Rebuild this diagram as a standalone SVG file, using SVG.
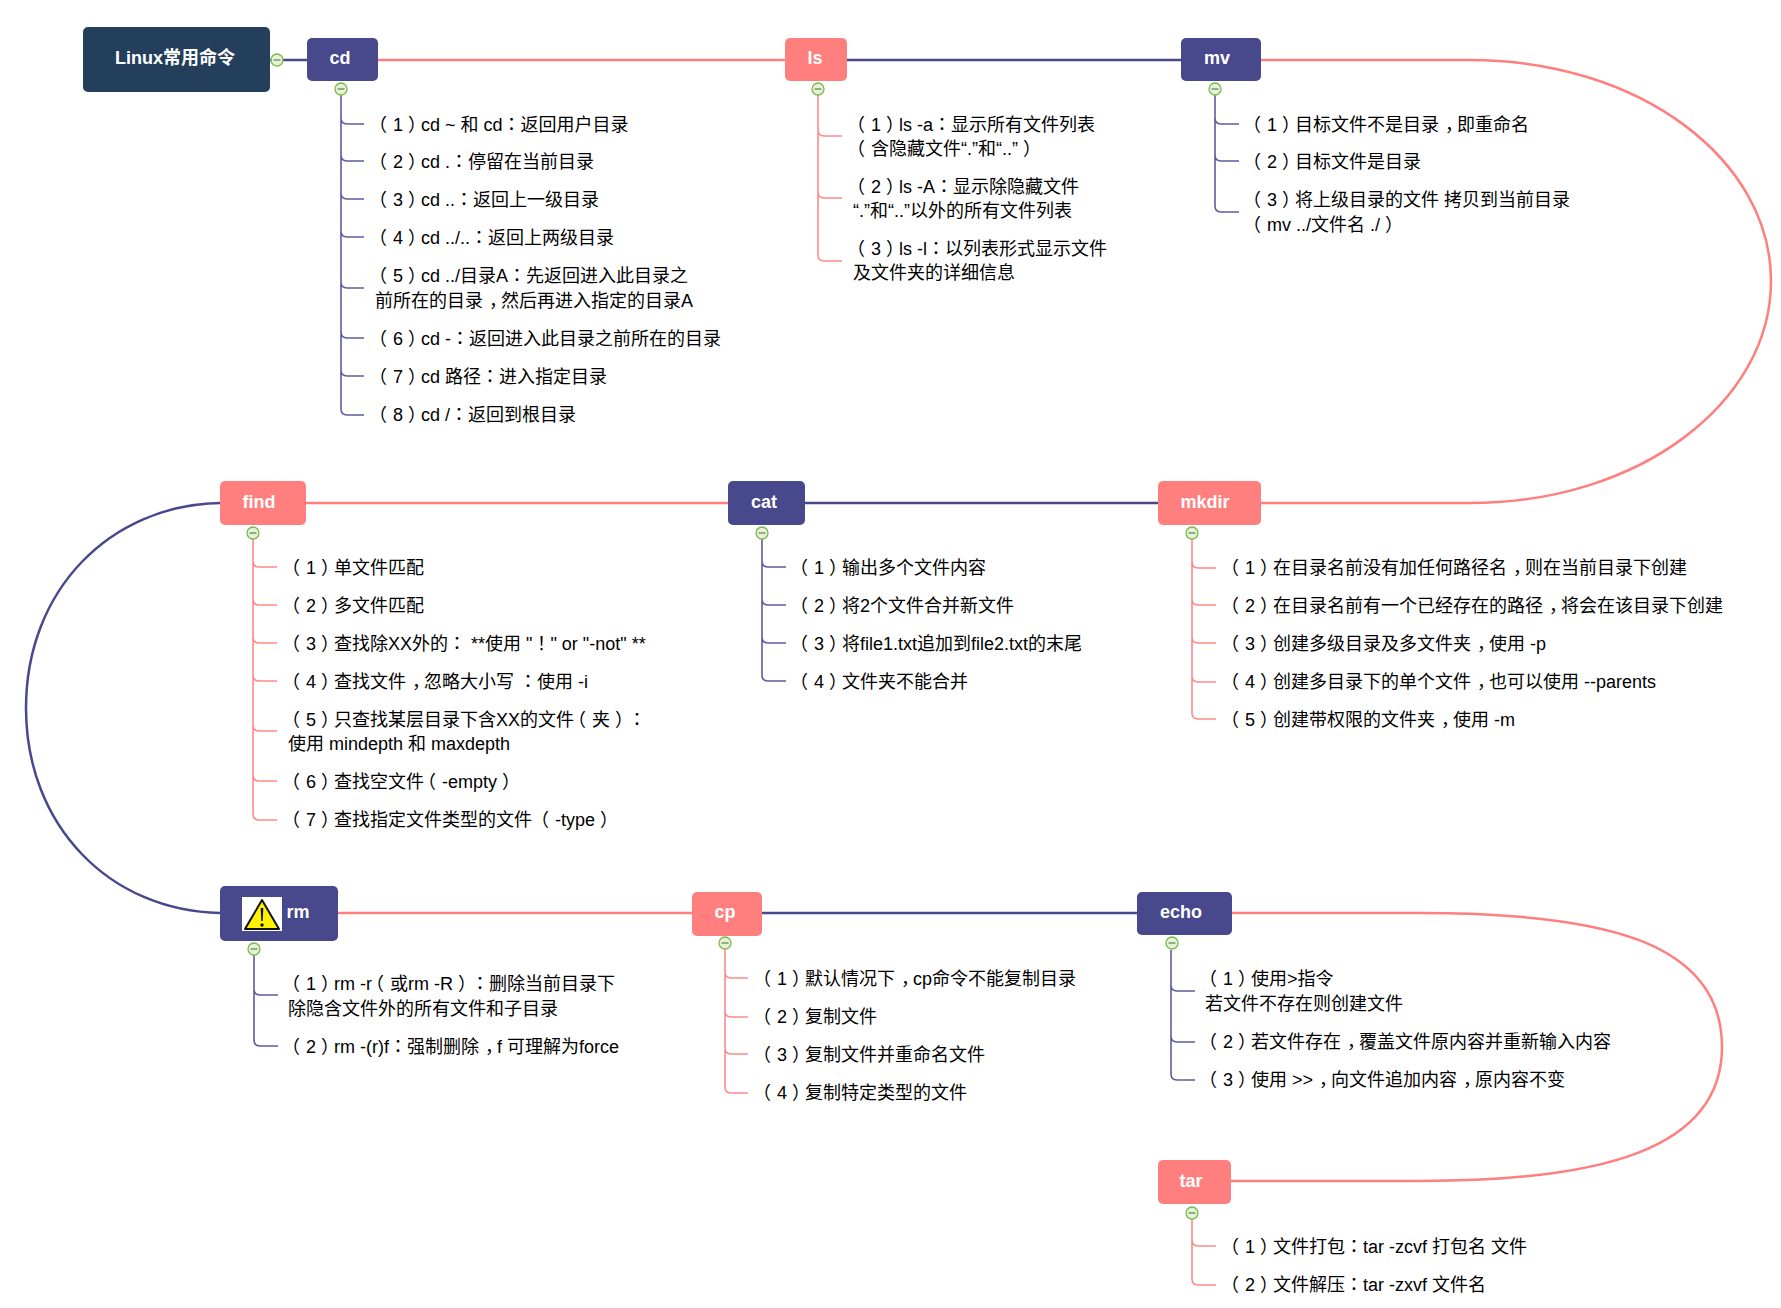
<svg xmlns="http://www.w3.org/2000/svg" width="1781" height="1308" viewBox="0 0 1781 1308">
<style>
text{font-family:"Liberation Sans","Noto Sans CJK SC",sans-serif;text-spacing-trim:space-all}
.l{font-size:18px;fill:#000}
.k{font-family:"Liberation Sans","Noto Sans CJK TC",sans-serif}
.t{font-size:18px;font-weight:bold;fill:#fff;text-anchor:middle}
.n{fill:#47498C}.p{fill:#FF7F7F}.r{fill:#243F5C}
.cn,.cp{fill:none;stroke-width:2.5}
.cn{stroke:#47498C}.cp{stroke:#FF7F7F}
.bn,.bp{fill:none;stroke-width:1.6}
.bn{stroke:#5C5E9C}.bp{stroke:#FF8A8A}
</style>
<defs>
<g id="fold"><circle r="6" fill="#E4F3D8" stroke="#7DB84F" stroke-width="1.3"/><path d="M-3.5 0H3.5" stroke="#7A9A60" stroke-width="1.5"/></g>
</defs>
<g id="connectors">
<path class="cn" d="M270 60H307"/>
<path class="cp" d="M378 60H785"/>
<path class="cn" d="M847 60H1181"/>
<path class="cp" d="M1261 60H1470C1640 60 1771 160 1771 281C1771 402 1640 503 1470 503H1261"/>
<path class="cn" d="M805 503H1158"/>
<path class="cp" d="M305 503H728"/>
<path class="cn" d="M220 503C110 505 26 590 26 708C26 826 110 911 220 913"/>
<path class="cp" d="M338 913H692"/>
<path class="cn" d="M762 913H1137"/>
<path class="cp" d="M1232 913H1420C1600 913 1722 940 1722 1047C1722 1150 1600 1181 1420 1181H1231"/>
<g class="bn">
<path d="M341 95V118Q341 124 347 124H364M341 118V155Q341 161 347 161H364M341 155V193Q341 199 347 199H364M341 193V231Q341 237 347 237H364M341 231V282Q341 288 347 288H364M341 282V332Q341 338 347 338H364M341 332V370Q341 376 347 376H364M341 370V409Q341 415 347 415H364"/>
<path d="M1215 95V118Q1215 124 1221 124H1239M1215 118V155Q1215 161 1221 161H1239M1215 155V206Q1215 212 1221 212H1239"/>
<path d="M762 539V561Q762 567 768 567H786M762 561V599Q762 605 768 605H786M762 599V637Q762 643 768 643H786M762 637V675Q762 681 768 681H786"/>
<path d="M254 955V989Q254 995 260 995H278M254 989V1040Q254 1046 260 1046H278"/>
<path d="M1171 950V985Q1171 991 1177 991H1195M1171 985V1036Q1171 1042 1177 1042H1195M1171 1036V1074Q1171 1080 1177 1080H1195"/>
</g>
<g class="bp">
<path d="M818 95V130Q818 136 824 136H842M818 130V192Q818 198 824 198H842M818 192V255Q818 261 824 261H842"/>
<path d="M253 539V561Q253 567 259 567H277M253 561V599Q253 605 259 605H277M253 599V637Q253 643 259 643H277M253 637V675Q253 681 259 681H277M253 675V725Q253 731 259 731H277M253 725V775Q253 781 259 781H277M253 775V814Q253 820 259 820H277"/>
<path d="M1192 539V562Q1192 568 1198 568H1216M1192 562V599Q1192 605 1198 605H1216M1192 599V637Q1192 643 1198 643H1216M1192 637V676Q1192 682 1198 682H1216M1192 676V713Q1192 719 1198 719H1216"/>
<path d="M725 949V972Q725 978 731 978H748M725 972V1011Q725 1017 731 1017H748M725 1011V1048Q725 1054 731 1054H748M725 1048V1087Q725 1093 731 1093H748"/>
<path d="M1192 1219V1240Q1192 1246 1198 1246H1216M1192 1240V1279Q1192 1285 1198 1285H1216"/>
</g>
</g>
<g id="root"><rect class="r" x="83" y="27" width="187" height="65" rx="5"/><text class="t" x="175" y="64">Linux常用命令</text><use href="#fold" x="277" y="60"/></g>
<g id="cd"><rect class="n" x="307" y="38" width="71" height="43" rx="5"/><text class="t" x="340" y="64">cd</text><use href="#fold" x="341" y="89"/></g>
<g id="ls"><rect class="p" x="785" y="38" width="62" height="43" rx="5"/><text class="t" x="815" y="64">ls</text><use href="#fold" x="818" y="89"/></g>
<g id="mv"><rect class="n" x="1181" y="38" width="80" height="43" rx="5"/><text class="t" x="1217" y="64">mv</text><use href="#fold" x="1215" y="89"/></g>
<g id="mkdir"><rect class="p" x="1158" y="481" width="103" height="44" rx="5"/><text class="t" x="1205" y="508">mkdir</text><use href="#fold" x="1192" y="533"/></g>
<g id="cat"><rect class="n" x="728" y="481" width="77" height="44" rx="5"/><text class="t" x="764" y="508">cat</text><use href="#fold" x="762" y="533"/></g>
<g id="find"><rect class="p" x="220" y="481" width="86" height="44" rx="5"/><text class="t" x="259" y="508">find</text><use href="#fold" x="253" y="533"/></g>
<g id="rm"><rect class="n" x="220" y="886" width="118" height="55" rx="5"/><rect x="242" y="897" width="40" height="34" fill="#fff"/><path d="M262 900L279 929H245Z" fill="#FFF200" stroke="#111" stroke-width="2" stroke-linejoin="round"/><path d="M260.700 908H263.300L262.700 921H261.300Z" fill="#111"/><circle cx="262" cy="925" r="1.700" fill="#111"/><text class="t" x="298" y="918">rm</text><use href="#fold" x="254" y="949"/></g>
<g id="cp"><rect class="p" x="692" y="892" width="70" height="44" rx="5"/><text class="t" x="725" y="918">cp</text><use href="#fold" x="725" y="943"/></g>
<g id="echo"><rect class="n" x="1137" y="892" width="95" height="43" rx="5"/><text class="t" x="1181" y="918">echo</text><use href="#fold" x="1172" y="943"/></g>
<g id="tar"><rect class="p" x="1158" y="1160" width="73" height="44" rx="5"/><text class="t" x="1191" y="1187">tar</text><use href="#fold" x="1192" y="1213"/></g>
<g id="cd-items" class="l">
<g id="cd-1"><text x="369" y="131" dx="0 6 5 -5">（1）cd ~ 和 cd<tspan class="k">：</tspan>返回用户目录</text></g>
<g id="cd-2"><text x="369" y="168" dx="0 6 5 -5">（2）cd .<tspan class="k">：</tspan>停留在当前目录</text></g>
<g id="cd-3"><text x="369" y="206" dx="0 6 5 -5">（3）cd ..<tspan class="k">：</tspan>返回上一级目录</text></g>
<g id="cd-4"><text x="369" y="244" dx="0 6 5 -5">（4）cd ../..<tspan class="k">：</tspan>返回上两级目录</text></g>
<g id="cd-5"><text x="369" y="282" dx="0 6 5 -5">（5）cd ../目录A<tspan class="k">：</tspan>先返回进入此目录之</text><text x="375" y="307">前所在的目录<tspan dx="6 -6">，然</tspan>后再进入指定的目录A</text></g>
<g id="cd-6"><text x="369" y="345" dx="0 6 5 -5">（6）cd -<tspan class="k">：</tspan>返回进入此目录之前所在的目录</text></g>
<g id="cd-7"><text x="369" y="383" dx="0 6 5 -5">（7）cd 路径<tspan class="k">：</tspan>进入指定目录</text></g>
<g id="cd-8"><text x="369" y="421" dx="0 6 5 -5">（8）cd /<tspan class="k">：</tspan>返回到根目录</text></g>
</g>
<g id="ls-items" class="l">
<g id="ls-1"><text x="847" y="131" dx="0 6 5 -5">（1）ls -a<tspan class="k">：</tspan>显示所有文件列表</text><text x="847" y="155" dx="0 6">（含隐藏文件“.”和“..”<tspan dx="5">）</tspan></text></g>
<g id="ls-2"><text x="847" y="193" dx="0 6 5 -5">（2）ls -A<tspan class="k">：</tspan>显示除隐藏文件</text><text x="853" y="217">“.”和“..”以外的所有文件列表</text></g>
<g id="ls-3"><text x="847" y="255" dx="0 6 5 -5">（3）ls -l<tspan class="k">：</tspan>以列表形式显示文件</text><text x="853" y="279">及文件夹的详细信息</text></g>
</g>
<g id="mv-items" class="l">
<g id="mv-1"><text x="1243" y="131" dx="0 6 5 -5">（1）目标文件不是目录<tspan dx="6 -6">，即</tspan>重命名</text></g>
<g id="mv-2"><text x="1243" y="168" dx="0 6 5 -5">（2）目标文件是目录</text></g>
<g id="mv-3"><text x="1243" y="206" dx="0 6 5 -5">（3）将上级目录的文件 拷贝到当前目录</text><text x="1243" y="231" dx="0 6">（mv ../文件名 ./<tspan dx="5">）</tspan></text></g>
</g>
<g id="find-items" class="l">
<g id="find-1"><text x="282" y="574" dx="0 6 5 -5">（1）单文件匹配</text></g>
<g id="find-2"><text x="282" y="612" dx="0 6 5 -5">（2）多文件匹配</text></g>
<g id="find-3"><text x="282" y="650" dx="0 6 5 -5">（3）查找除XX外的<tspan class="k">：</tspan> **使用 "<tspan class="k">！</tspan>" or "-not" **</text></g>
<g id="find-4"><text x="282" y="688" dx="0 6 5 -5">（4）查找文件<tspan dx="6 -6">，忽</tspan>略大小写 <tspan class="k">：</tspan>使用 -i</text></g>
<g id="find-5"><text x="282" y="726" dx="0 6 5 -5 0 0 0 0 0 0 0 0 0 0 0 0 0 -6 6">（5）只查找某层目录下含XX的文件（夹<tspan class="k" dx="5 -5">）：</tspan></text><text x="288" y="750">使用 mindepth 和 maxdepth</text></g>
<g id="find-6"><text x="282" y="788" dx="0 6 5 -5 0 0 0 0 -6 6">（6）查找空文件（-empty<tspan dx="5">）</tspan></text></g>
<g id="find-7"><text x="282" y="826" dx="0 6 5 -5 0 0 0 0 0 0 0 0 0 0 0 -6 6">（7）查找指定文件类型的文件 （-type<tspan dx="5">）</tspan></text></g>
</g>
<g id="cat-items" class="l">
<g id="cat-1"><text x="790" y="574" dx="0 6 5 -5">（1）输出多个文件内容</text></g>
<g id="cat-2"><text x="790" y="612" dx="0 6 5 -5">（2）将2个文件合并新文件</text></g>
<g id="cat-3"><text x="790" y="650" dx="0 6 5 -5">（3）将file1.txt追加到file2.txt的末尾</text></g>
<g id="cat-4"><text x="790" y="688" dx="0 6 5 -5">（4）文件夹不能合并</text></g>
</g>
<g id="mkdir-items" class="l">
<g id="mkdir-1"><text x="1221" y="574" dx="0 6 5 -5">（1）在目录名前没有加任何路径名<tspan dx="6 -6">，则</tspan>在当前目录下创建</text></g>
<g id="mkdir-2"><text x="1221" y="612" dx="0 6 5 -5">（2）在目录名前有一个已经存在的路径<tspan dx="6 -6">，将</tspan>会在该目录下创建</text></g>
<g id="mkdir-3"><text x="1221" y="650" dx="0 6 5 -5">（3）创建多级目录及多文件夹<tspan dx="6 -6">，使</tspan>用 -p</text></g>
<g id="mkdir-4"><text x="1221" y="688" dx="0 6 5 -5">（4）创建多目录下的单个文件<tspan dx="6 -6">，也</tspan>可以使用 --parents</text></g>
<g id="mkdir-5"><text x="1221" y="726" dx="0 6 5 -5">（5）创建带权限的文件夹<tspan dx="6 -6">，使</tspan>用 -m</text></g>
</g>
<g id="rm-items" class="l">
<g id="rm-1"><text x="282" y="990" dx="0 6 5 -5 0 0 0 0 -6 6">（1）rm -r（或rm -R<tspan class="k" dx="5 -5">）：</tspan>删除当前目录下</text><text x="288" y="1015">除隐含文件外的所有文件和子目录</text></g>
<g id="rm-2"><text x="282" y="1053" dx="0 6 5 -5">（2）rm -(r)f<tspan class="k">：</tspan>强制删除<tspan dx="6 -6">，f</tspan> 可理解为force</text></g>
</g>
<g id="cp-items" class="l">
<g id="cp-1"><text x="753" y="985" dx="0 6 5 -5">（1）默认情况下<tspan dx="6 -6">，c</tspan>p命令不能复制目录</text></g>
<g id="cp-2"><text x="753" y="1023" dx="0 6 5 -5">（2）复制文件</text></g>
<g id="cp-3"><text x="753" y="1061" dx="0 6 5 -5">（3）复制文件并重命名文件</text></g>
<g id="cp-4"><text x="753" y="1099" dx="0 6 5 -5">（4）复制特定类型的文件</text></g>
</g>
<g id="echo-items" class="l">
<g id="echo-1"><text x="1199" y="985" dx="0 6 5 -5">（1）使用&gt;指令</text><text x="1205" y="1010">若文件不存在则创建文件</text></g>
<g id="echo-2"><text x="1199" y="1048" dx="0 6 5 -5">（2）若文件存在<tspan dx="6 -6">，覆</tspan>盖文件原内容并重新输入内容</text></g>
<g id="echo-3"><text x="1199" y="1086" dx="0 6 5 -5">（3）使用 &gt;&gt;<tspan dx="6 -6">，向</tspan>文件追加内容<tspan dx="6 -6">，原</tspan>内容不变</text></g>
</g>
<g id="tar-items" class="l">
<g id="tar-1"><text x="1221" y="1253" dx="0 6 5 -5">（1）文件打包<tspan class="k">：</tspan>tar -zcvf 打包名 文件</text></g>
<g id="tar-2"><text x="1221" y="1291" dx="0 6 5 -5">（2）文件解压<tspan class="k">：</tspan>tar -zxvf 文件名</text></g>
</g>
</svg>
